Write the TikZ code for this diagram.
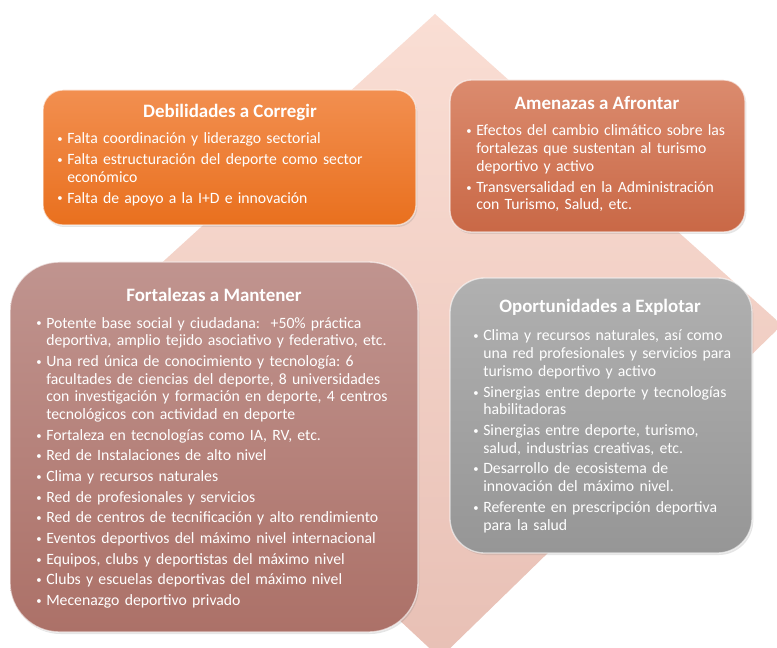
\documentclass[tikz,border=0pt]{standalone}
\usepackage{fontspec}
\setmainfont{Carlito}
\usepackage{enumitem}
\usetikzlibrary{positioning,fit,shadows}

\setlist[itemize]{label={\raisebox{0.8pt}{\footnotesize\textbullet}},leftmargin=7.5pt,labelwidth=7.5pt,labelsep=0pt,align=left,
  itemsep=2.2pt,parsep=0pt,topsep=0pt,partopsep=0pt}
\frenchspacing

\definecolor{rombo1}{RGB}{250,222,212}
\definecolor{rombo2}{RGB}{232,192,181}
\definecolor{deb1}{RGB}{242,143,80}
\definecolor{deb2}{RGB}{233,112,30}
\definecolor{ame1}{RGB}{219,139,110}
\definecolor{ame2}{RGB}{201,104,70}
\definecolor{fort1}{RGB}{192,148,143}
\definecolor{fort2}{RGB}{172,113,104}
\definecolor{opor1}{RGB}{176,176,176}
\definecolor{opor2}{RGB}{150,150,150}

\tikzset{
  caja/.style={inner sep=0pt, draw=white, draw opacity=0.6, line width=1pt,
    drop shadow={opacity=0.2,shadow xshift=1pt,shadow yshift=-1.5pt}},
  titulo/.style={text=white, font=\fontsize{14.2}{16}\selectfont\bfseries, inner sep=0pt},
  lista/.style={text=white, font=\fontsize{11.8}{13.3}\selectfont, text width=300pt,
    align=left, inner sep=0pt, anchor=north west}
}

\begin{document}
\begin{tikzpicture}[x=0.75pt,y=-0.75pt]
\useasboundingbox (0,0) rectangle (777,648);
\fill[white] (0,0) rectangle (777,648);
% rombo de fondo
\begin{scope}
\clip (0,0) rectangle (777,648);
\shade[top color=rombo1, bottom color=rombo2] (435,14) -- (782,325) -- (440,658) -- (88,330) -- cycle;
\end{scope}

% cajas
\node[caja, rounded corners=15pt, top color=deb1, bottom color=deb2, fit={(43,90) (416,225)}] (deb) {};
\node[caja, rounded corners=16pt, top color=ame1, bottom color=ame2, fit={(450,80) (745,232)}] (ame) {};
\node[caja, rounded corners=37pt, top color=fort1, bottom color=fort2, fit={(10,262) (418,632)}] (fort) {};
\node[caja, rounded corners=26pt, top color=opor1, bottom color=opor2, fit={(450,278) (752,553)}] (opor) {};

% Debilidades
\node[titulo] (debT) at (230,112) {Debilidades a Corregir};
\node[lista] (debL) at (57,126) {\begin{itemize}
\item Falta coordinación y liderazgo sectorial
\item Falta estructuración del deporte como sector\newline económico
\item Falta de apoyo a la I+D e innovación
\end{itemize}};

% Amenazas
\node[titulo] (ameT) at (597,103) {Amenazas a Afrontar};
\node[lista] (ameL) at (466,118) {\begin{itemize}
\item Efectos del cambio climático sobre las\newline fortalezas que sustentan al turismo\newline deportivo y activo
\item Transversalidad en la Administración\newline con Turismo, Salud, etc.
\end{itemize}};

% Fortalezas
\node[titulo] (fortT) at (214,295) {Fortalezas a Mantener};
\node[lista] (fortL) at (36,310) {\begin{itemize}
\item Potente base social y ciudadana:\ \ +50\% práctica\newline deportiva, amplio tejido asociativo y federativo, etc.
\item Una red única de conocimiento y tecnología: 6\newline facultades de ciencias del deporte, 8 universidades\newline con investigación y formación en deporte, 4 centros\newline tecnológicos con actividad en deporte
\item Fortaleza en tecnologías como IA, RV, etc.
\item Red de Instalaciones de alto nivel
\item Clima y recursos naturales
\item Red de profesionales y servicios
\item Red de centros de tecnificación y alto rendimiento
\item Eventos deportivos del máximo nivel internacional
\item Equipos, clubs y deportistas del máximo nivel
\item Clubs y escuelas deportivas del máximo nivel
\item Mecenazgo deportivo privado
\end{itemize}};

% Oportunidades
\node[titulo] (oporT) at (600,307) {Oportunidades a Explotar};
\node[lista] (oporL) at (473,323) {\begin{itemize}
\item Clima y recursos naturales, así como\newline una red profesionales y servicios para\newline turismo deportivo y activo
\item Sinergias entre deporte y tecnologías\newline habilitadoras
\item Sinergias entre deporte, turismo,\newline salud, industrias creativas, etc.
\item Desarrollo de ecosistema de\newline innovación del máximo nivel.
\item Referente en prescripción deportiva\newline para la salud
\end{itemize}};
\end{tikzpicture}
\end{document}
